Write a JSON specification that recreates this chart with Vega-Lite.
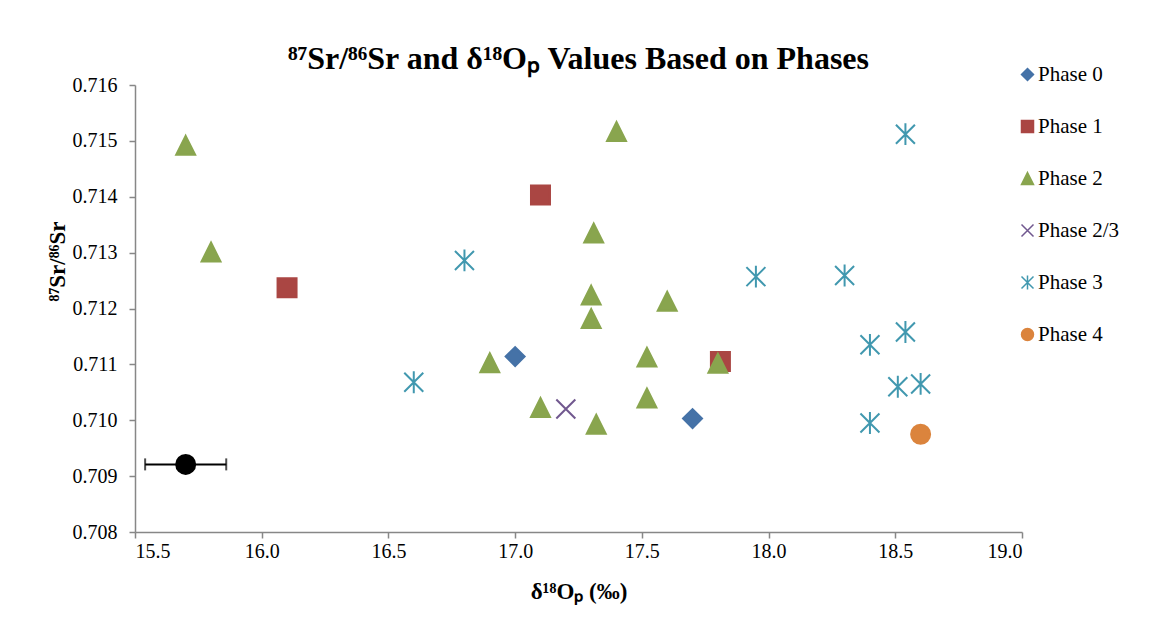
{
  "$schema": "https://vega.github.io/schema/vega-lite/v6.json",
  "width": 887,
  "height": 447,
  "autosize": {"type": "none"},
  "padding": {"left": 135, "top": 85, "right": 131, "bottom": 101},
  "background": "white",
  "title": {
    "text": "⁸⁷Sr/⁸⁶Sr and δ¹⁸Oₚ Values Based on Phases",
    "font": "Liberation Serif",
    "fontSize": 32,
    "fontWeight": "bold",
    "color": "black",
    "anchor": "middle",
    "offset": -12
  },
  "datasets": {
    "ref": [{"x": 15.7, "lo": 15.54, "hi": 15.86, "y": 0.70921}],
    "samples": [
      {"phase": "Phase 0", "d18O": 17.0, "sr": 0.71114},
      {"phase": "Phase 0", "d18O": 17.7, "sr": 0.71003},
      {"phase": "Phase 1", "d18O": 16.1, "sr": 0.71237},
      {"phase": "Phase 1", "d18O": 17.1, "sr": 0.71403},
      {"phase": "Phase 1", "d18O": 17.81, "sr": 0.71105},
      {"phase": "Phase 2", "d18O": 15.7, "sr": 0.71492},
      {"phase": "Phase 2", "d18O": 15.8, "sr": 0.71301},
      {"phase": "Phase 2", "d18O": 17.4, "sr": 0.71517},
      {"phase": "Phase 2", "d18O": 17.31, "sr": 0.71335},
      {"phase": "Phase 2", "d18O": 17.3, "sr": 0.71224},
      {"phase": "Phase 2", "d18O": 17.3, "sr": 0.71182},
      {"phase": "Phase 2", "d18O": 17.6, "sr": 0.71213},
      {"phase": "Phase 2", "d18O": 16.9, "sr": 0.71103},
      {"phase": "Phase 2", "d18O": 17.52, "sr": 0.71113},
      {"phase": "Phase 2", "d18O": 17.8, "sr": 0.71102},
      {"phase": "Phase 2", "d18O": 17.1, "sr": 0.71023},
      {"phase": "Phase 2", "d18O": 17.52, "sr": 0.7104},
      {"phase": "Phase 2", "d18O": 17.32, "sr": 0.70993},
      {"phase": "Phase 2/3", "d18O": 17.2, "sr": 0.7102},
      {"phase": "Phase 3", "d18O": 16.8, "sr": 0.71286},
      {"phase": "Phase 3", "d18O": 16.6, "sr": 0.71068},
      {"phase": "Phase 3", "d18O": 18.54, "sr": 0.71512},
      {"phase": "Phase 3", "d18O": 17.95, "sr": 0.71257},
      {"phase": "Phase 3", "d18O": 18.3, "sr": 0.71259},
      {"phase": "Phase 3", "d18O": 18.54, "sr": 0.71158},
      {"phase": "Phase 3", "d18O": 18.4, "sr": 0.71135},
      {"phase": "Phase 3", "d18O": 18.51, "sr": 0.7106},
      {"phase": "Phase 3", "d18O": 18.6, "sr": 0.71065},
      {"phase": "Phase 3", "d18O": 18.4, "sr": 0.70995},
      {"phase": "Phase 4", "d18O": 18.6, "sr": 0.70975}
    ]
  },
  "config": {
    "view": {"stroke": null},
    "axis": {
      "grid": false,
      "domainColor": "#878787",
      "domainWidth": 1.5,
      "tickColor": "#878787",
      "tickWidth": 1.5,
      "tickSize": 6,
      "labelFont": "Liberation Serif",
      "labelFontSize": 20,
      "labelColor": "black",
      "titleFont": "Liberation Serif",
      "titleFontSize": 23,
      "titleFontWeight": "bold",
      "titleColor": "black"
    }
  },
  "layer": [
    {
      "data": {"name": "ref"},
      "mark": {
        "type": "errorbar",
        "ticks": {"size": 12, "thickness": 2, "color": "black"},
        "rule": {"strokeWidth": 2, "color": "black"}
      },
      "encoding": {
        "x": {"field": "lo", "type": "quantitative", "title": "δ¹⁸Oₚ (‰)"},
        "x2": {"field": "hi"},
        "y": {"field": "y", "type": "quantitative", "title": "⁸⁷Sr/⁸⁶Sr"}
      }
    },
    {
      "data": {"name": "ref"},
      "mark": {"type": "point", "filled": true, "color": "black", "size": 441, "opacity": 1},
      "encoding": {
        "x": {"field": "x", "type": "quantitative", "title": "δ¹⁸Oₚ (‰)"},
        "y": {"field": "y", "type": "quantitative", "title": "⁸⁷Sr/⁸⁶Sr"}
      }
    },
    {
      "data": {"name": "samples"},
      "mark": {"type": "point", "size": 361, "strokeWidth": 2, "opacity": 1},
      "encoding": {
        "x": {
          "field": "d18O",
          "type": "quantitative",
          "title": "δ¹⁸Oₚ (‰)",
          "scale": {"domain": [15.5, 19], "nice": false, "zero": false},
          "axis": {"values": [15.5, 16, 16.5, 17, 17.5, 18, 18.5, 19], "format": ".1f", "labelPadding": 3, "titlePadding": 19}
        },
        "y": {
          "field": "sr",
          "type": "quantitative",
          "title": "⁸⁷Sr/⁸⁶Sr",
          "scale": {"domain": [0.708, 0.716], "nice": false, "zero": false},
          "axis": {"values": [0.708, 0.709, 0.71, 0.711, 0.712, 0.713, 0.714, 0.715, 0.716], "format": ".3f", "labelPadding": 12, "titlePadding": 3, "titleY": 176}
        },
        "shape": {
          "field": "phase",
          "type": "nominal",
          "title": null,
          "scale": {
            "domain": ["Phase 0", "Phase 1", "Phase 2", "Phase 2/3", "Phase 3", "Phase 4"],
            "range": ["diamond", "square", "M0,-1L1,1L-1,1Z", "M-1,-1L1,1M-1,1L1,-1", "M-1,-1L1,1M-1,1L1,-1M0,-1.15L0,1.15", "circle"]
          },
          "legend": {"orient": "none", "legendX": 882, "legendY": -21, "symbolSize": 144, "symbolStrokeWidth": 1.5, "labelFont": "Liberation Serif", "labelFontSize": 21, "labelColor": "black", "labelOffset": 0, "rowPadding": 30, "padding": 0}
        },
        "fill": {
          "field": "phase",
          "type": "nominal",
          "title": null,
          "scale": {
            "domain": ["Phase 0", "Phase 1", "Phase 2", "Phase 2/3", "Phase 3", "Phase 4"],
            "range": ["#4572A7", "#AA4643", "#89A54E", "transparent", "transparent", "#DB843D"]
          },
          "legend": {"orient": "none", "legendX": 882, "legendY": -21, "symbolSize": 144, "symbolStrokeWidth": 1.5, "labelFont": "Liberation Serif", "labelFontSize": 21, "labelColor": "black", "labelOffset": 0, "rowPadding": 30, "padding": 0}
        },
        "stroke": {
          "field": "phase",
          "type": "nominal",
          "title": null,
          "scale": {
            "domain": ["Phase 0", "Phase 1", "Phase 2", "Phase 2/3", "Phase 3", "Phase 4"],
            "range": ["#4572A7", "#AA4643", "#89A54E", "#71588F", "#4198AF", "#DB843D"]
          },
          "legend": {"orient": "none", "legendX": 882, "legendY": -21, "symbolSize": 144, "symbolStrokeWidth": 1.5, "labelFont": "Liberation Serif", "labelFontSize": 21, "labelColor": "black", "labelOffset": 0, "rowPadding": 30, "padding": 0}
        }
      }
    }
  ]
}
